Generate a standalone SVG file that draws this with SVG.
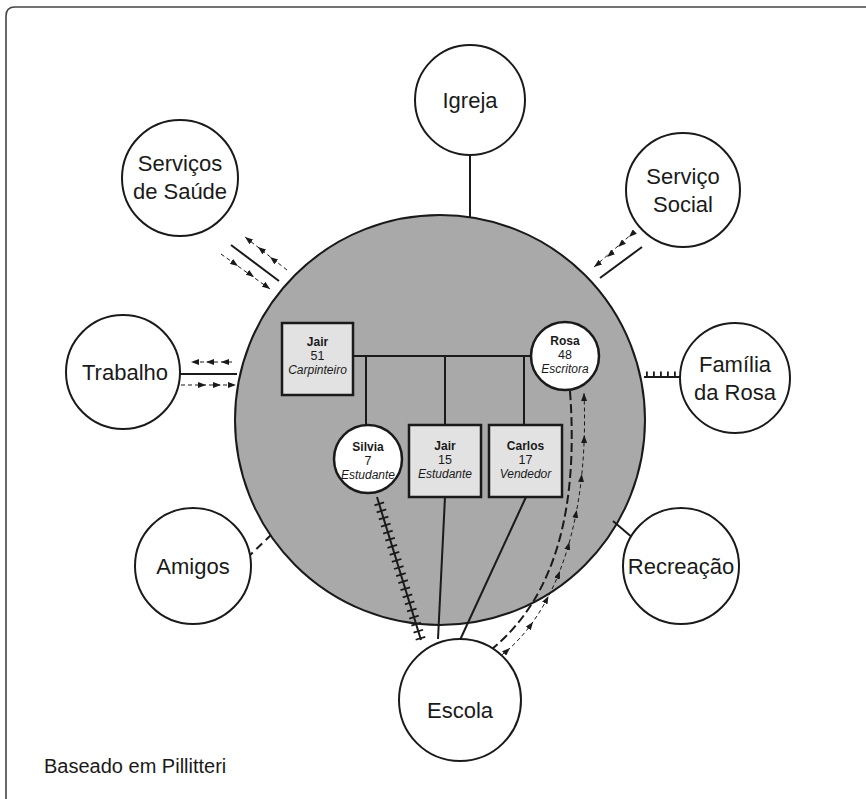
<svg xmlns="http://www.w3.org/2000/svg" width="866" height="799" viewBox="0 0 866 799">
  <style>
    .frame { fill: none; stroke: #444; stroke-width: 1.6; }
    .node { fill: #fff; stroke: #1a1a1a; stroke-width: 2; }
    .home { fill: #a9a9a9; stroke: #1a1a1a; stroke-width: 2; }
    .box { fill: #e2e2e2; stroke: #1a1a1a; stroke-width: 2.5; }
    .member { fill: #fff; stroke: #1a1a1a; stroke-width: 2.5; }
    .lbl { font-family: "Liberation Sans", Arial, sans-serif; font-size: 22px; fill: #1a1a1a; text-anchor: middle; }
    .nm { font-family: "Liberation Sans", Arial, sans-serif; font-size: 12px; font-weight: bold; fill: #1a1a1a; text-anchor: middle; }
    .age { font-family: "Liberation Sans", Arial, sans-serif; font-size: 12.5px; fill: #1a1a1a; text-anchor: middle; }
    .job { font-family: "Liberation Sans", Arial, sans-serif; font-size: 12px; font-style: italic; fill: #1a1a1a; text-anchor: middle; }
    .note { font-family: "Liberation Sans", Arial, sans-serif; font-size: 20px; fill: #1a1a1a; }
    .solid { stroke: #1a1a1a; stroke-width: 2; fill: none; }
    .flow { stroke: #1a1a1a; stroke-width: 1; stroke-dasharray: 4 3; fill: none; }
    .tip { fill: none; stroke: none; marker-mid: url(#arrow); marker-end: url(#arrow); }
    .hatch { stroke: #1a1a1a; stroke-width: 10; stroke-dasharray: 1.8 5.6; fill: none; }
  </style>
  <defs>
    <marker id="arrow" viewBox="0 0 8 6" refX="8" refY="3" markerWidth="8" markerHeight="6" markerUnits="userSpaceOnUse" orient="auto">
      <path d="M0,0 L8,3 L0,6 z" fill="#1a1a1a"/>
    </marker>
  </defs>

  <!-- outer frame -->
  <path class="frame" d="M6,799 V16 Q6,7 15,7 H866"/>

  <!-- household -->
  <g id="home">
    <circle class="home" cx="440" cy="420" r="205"/>
  </g>

  <g id="connectors">
    <!-- Igreja -->
    <line class="solid" x1="470" y1="155" x2="470" y2="217"/>
    <!-- Serviços de Saúde -->
    <line class="solid" x1="231" y1="245" x2="279" y2="281"/>
    <line class="flow" x1="287" y1="270" x2="245" y2="237"/>
    <polyline class="tip" points="287,270 270,257 258,247 245,237"/>
    <line class="flow" x1="221" y1="254" x2="270" y2="289"/>
    <polyline class="tip" points="221,254 238,266 254,277 270,289"/>
    <!-- Serviço Social -->
    <line class="solid" x1="642" y1="247" x2="600" y2="278"/>
    <line class="flow" x1="634" y1="232" x2="594" y2="267"/>
    <polyline class="tip" points="634,232 629,237 618,247 607,257 594,267"/>
    <!-- Trabalho -->
    <line class="solid" x1="179" y1="374" x2="237" y2="374"/>
    <line class="flow" x1="232" y1="362" x2="191" y2="362"/>
    <polyline class="tip" points="232,362 221,362 206,362 191,362"/>
    <line class="flow" x1="181" y1="385" x2="236" y2="385"/>
    <polyline class="tip" points="181,385 206,385 221,385 236,385"/>
    <!-- Família da Rosa -->
    <line class="solid" x1="644" y1="377" x2="680" y2="377"/>
    <line stroke="#1a1a1a" stroke-width="5" stroke-dasharray="1.8 5.2" x1="646" y1="374" x2="680" y2="374"/>
    <!-- Amigos -->
    <line class="solid" stroke-dasharray="8 5" x1="247" y1="558" x2="271" y2="535"/>
    <!-- Recreação -->
    <line class="solid" x1="613" y1="521" x2="641" y2="545"/>
    <!-- family lines -->
    <line class="solid" x1="353" y1="356" x2="531" y2="356"/>
    <line class="solid" x1="366" y1="356" x2="366" y2="425"/>
    <line class="solid" x1="445" y1="356" x2="445" y2="425"/>
    <line class="solid" x1="524" y1="356" x2="524" y2="425"/>
    <!-- Escola -->
    <line class="solid" x1="377" y1="497" x2="421" y2="640"/>
    <line class="hatch" x1="379" y1="503" x2="421" y2="640"/>
    <line class="solid" x1="445" y1="497" x2="438" y2="639"/>
    <line class="solid" x1="526" y1="497" x2="460" y2="640"/>
    <path class="solid" stroke-width="2.5" stroke-dasharray="9 4" d="M570,391 C578,500 560,600 483,656"/>
    <path class="flow" stroke-dasharray="5 4" d="M490,663 C545,630 590,540 584,393"/>
    <polyline class="tip" points="490,663 510,648 533,622 548.5,596 560,571 569.4,542 576.7,510 581.8,474 584.3,435 584,393"/>
  </g>

  <!-- outer systems -->
  <g id="igreja"><circle class="node" cx="470" cy="100" r="55"/><text class="lbl" x="470" y="108">Igreja</text></g>
  <g id="saude"><circle class="node" cx="180" cy="178" r="58"/><text class="lbl" x="180" y="171">Serviços</text><text class="lbl" x="180" y="199">de Saúde</text></g>
  <g id="social"><circle class="node" cx="683" cy="190" r="57"/><text class="lbl" x="683" y="184">Serviço</text><text class="lbl" x="683" y="212">Social</text></g>
  <g id="trabalho"><circle class="node" cx="123" cy="372" r="57"/><text class="lbl" x="125" y="380">Trabalho</text></g>
  <g id="familia-rosa"><circle class="node" cx="735" cy="378" r="55"/><text class="lbl" x="735" y="372">Família</text><text class="lbl" x="735" y="400">da Rosa</text></g>
  <g id="amigos"><circle class="node" cx="193" cy="566" r="58"/><text class="lbl" x="193" y="574">Amigos</text></g>
  <g id="recreacao"><circle class="node" cx="681" cy="566" r="58"/><text class="lbl" x="681" y="574">Recreação</text></g>
  <g id="escola"><circle class="node" cx="460" cy="700" r="61"/><text class="lbl" x="460" y="718">Escola</text></g>

  <!-- family members -->
  <g id="jair-pai"><rect class="box" x="282" y="323" width="71" height="72"/>
    <text class="nm" x="317.5" y="346">Jair</text><text class="age" x="317.5" y="360">51</text><text class="job" x="317.5" y="374">Carpinteiro</text></g>
  <g id="rosa"><circle class="member" cx="565" cy="356" r="34"/>
    <text class="nm" x="565" y="345">Rosa</text><text class="age" x="565" y="359">48</text><text class="job" x="565" y="373">Escritora</text></g>
  <g id="silvia"><circle class="member" cx="368" cy="459" r="34"/>
    <text class="nm" x="368" y="451">Silvia</text><text class="age" x="368" y="465">7</text><text class="job" x="368" y="479">Estudante</text></g>
  <g id="jair-filho"><rect class="box" x="409" y="425" width="72" height="72"/>
    <text class="nm" x="445" y="450">Jair</text><text class="age" x="445" y="464">15</text><text class="job" x="445" y="478">Estudante</text></g>
  <g id="carlos"><rect class="box" x="489" y="425" width="73" height="72"/>
    <text class="nm" x="525.5" y="450">Carlos</text><text class="age" x="525.5" y="464">17</text><text class="job" x="525.5" y="478">Vendedor</text></g>

  <text class="note" x="44" y="773">Baseado em Pillitteri</text>
</svg>
